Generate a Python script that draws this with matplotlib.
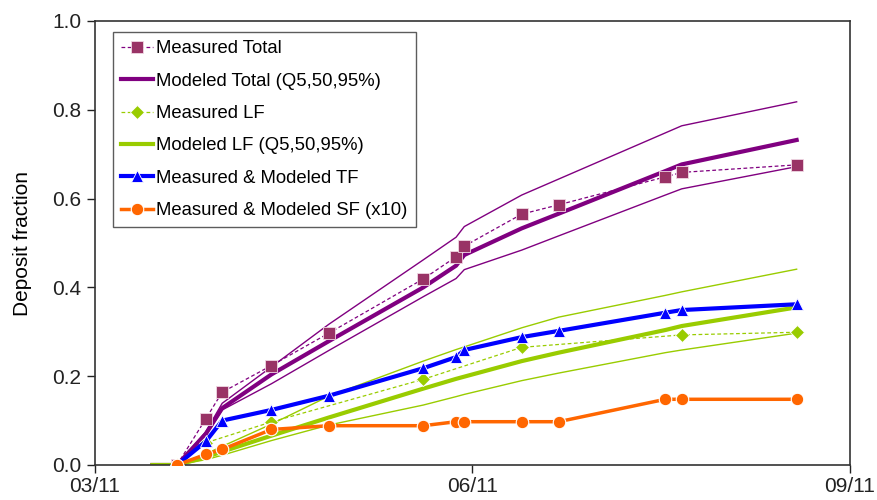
import numpy as np
import pandas as pd
import matplotlib
matplotlib.use("Agg")
import matplotlib.pyplot as plt
import matplotlib.dates as mdates

plt.rcParams['font.family'] = ['Liberation Sans', 'DejaVu Sans']

# measurement dates
meas_dates = pd.to_datetime([
    "2011-03-21", "2011-03-28", "2011-04-01", "2011-04-13", "2011-04-27",
    "2011-05-20", "2011-05-28", "2011-05-30", "2011-06-13", "2011-06-22",
    "2011-07-18", "2011-07-22", "2011-08-19"])
total_meas = [0.0, 0.104, 0.164, 0.224, 0.297, 0.419, 0.469, 0.493,
              0.565, 0.586, 0.649, 0.659, 0.676]
tf_vals = [0.0, 0.053, 0.100, 0.124, 0.156, 0.218, 0.243, 0.259,
           0.288, 0.302, 0.343, 0.349, 0.362]
sf_x10 = [0.0, 0.024, 0.035, 0.080, 0.0885, 0.0885, 0.0975, 0.0975,
          0.0975, 0.0975, 0.148, 0.148, 0.148]

# measured LF only at some dates
lf_dates = pd.to_datetime([
    "2011-03-21", "2011-03-28", "2011-04-13", "2011-05-20",
    "2011-06-13", "2011-07-22", "2011-08-19"])
lf_meas = [0.0, 0.050, 0.097, 0.193, 0.265, 0.293, 0.299]

# modeled curves (Q5, median, Q95)
model_dates = pd.to_datetime(["2011-03-15"]).append(meas_dates)
total_q50 = [0.0, 0.0, 0.070, 0.128, 0.204, 0.279, 0.400, 0.449, 0.473,
             0.533, 0.566, 0.662, 0.677, 0.732]
total_q95 = [0.0, 0.0, 0.075, 0.139, 0.221, 0.317, 0.462, 0.513, 0.537,
             0.608, 0.644, 0.748, 0.764, 0.818]
total_q5 = [0.0, 0.0, 0.066, 0.124, 0.183, 0.258, 0.379, 0.420, 0.440,
            0.484, 0.516, 0.608, 0.622, 0.672]
lf_q50 = [0.0, 0.0, 0.018, 0.030, 0.066, 0.107, 0.172, 0.194, 0.199,
          0.234, 0.253, 0.304, 0.313, 0.355]
lf_q95 = [0.0, 0.0, 0.025, 0.042, 0.092, 0.155, 0.234, 0.260, 0.266,
          0.309, 0.333, 0.382, 0.390, 0.441]
lf_q5 = [0.0, 0.0, 0.012, 0.022, 0.055, 0.090, 0.135, 0.154, 0.159,
         0.190, 0.207, 0.253, 0.259, 0.297]

purple = '#800080'
maroon = '#993366'
green = '#99CC00'
blue = '#0000FF'
orange = '#FF6600'

fig = plt.figure(figsize=(8.77, 5.0), dpi=100)
ax = fig.add_axes([0.1083, 0.07, 0.8609, 0.888])

# modeled total
ax.plot(model_dates, total_q95, color=purple, lw=1.0, zorder=2)
ax.plot(model_dates, total_q5, color=purple, lw=1.0, zorder=2)
ax.plot(model_dates, total_q50, color=purple, lw=3.0, zorder=2,
        label='Modeled Total (Q5,50,95%)')
# modeled LF
ax.plot(model_dates, lf_q95, color=green, lw=1.0, zorder=2)
ax.plot(model_dates, lf_q5, color=green, lw=1.0, zorder=2)
ax.plot(model_dates, lf_q50, color=green, lw=3.0, zorder=2,
        label='Modeled LF (Q5,50,95%)')

ax.plot(meas_dates, total_meas, color=purple, lw=0.9, ls=(0, (3, 2)),
        marker='s', ms=8.5, mfc=maroon, mec='#f0d8e4', mew=0.6, zorder=4,
        label='Measured Total')
ax.plot(lf_dates, lf_meas, color=green, lw=0.9, ls=(0, (3, 2)),
        marker='D', ms=7, mfc=green, mec='white', mew=0.6, zorder=4,
        label='Measured LF')
ax.plot(meas_dates, tf_vals, color=blue, lw=3.0, marker='^', ms=8.5,
        mfc=blue, mec='white', mew=0.6, zorder=5,
        label='Measured & Modeled TF')
ax.plot(meas_dates, sf_x10, color=orange, lw=2.5, marker='o', ms=9,
        mfc=orange, mec='white', mew=0.8, zorder=6,
        label='Measured & Modeled SF (x10)')

ax.set_xlim(pd.Timestamp("2011-03-01"), pd.Timestamp("2011-09-01"))
ax.set_ylim(0, 1.0)
ax.set_xticks(pd.to_datetime(["2011-03-01", "2011-06-01", "2011-09-01"]))
ax.xaxis.set_major_formatter(mdates.DateFormatter('%m/%y'))
ax.set_yticks(np.arange(0, 1.01, 0.2))
ax.yaxis.set_major_formatter(plt.FormatStrFormatter('%.1f'))
ax.tick_params(direction='out', length=6, width=1, labelsize=15,
               colors='#222222', pad=4)
ax.tick_params(axis='x', pad=3)
for s in ax.spines.values():
    s.set_color('#333333')
    s.set_linewidth(1.2)
ax.set_ylabel('Deposit fraction', fontsize=15, labelpad=14)

handles, labels = ax.get_legend_handles_labels()
order = ['Measured Total', 'Modeled Total (Q5,50,95%)', 'Measured LF',
         'Modeled LF (Q5,50,95%)', 'Measured & Modeled TF',
         'Measured & Modeled SF (x10)']
hmap = dict(zip(labels, handles))
leg = ax.legend([hmap[l] for l in order], order, loc='upper left',
                bbox_to_anchor=(0.0238, 0.975), borderaxespad=0,
                fontsize=13.3, frameon=True, fancybox=False,
                handlelength=1.7, handletextpad=0.2, borderpad=0.45,
                labelspacing=0.83)
leg.get_frame().set_edgecolor('#333333')
leg.get_frame().set_linewidth(1.0)

fig.savefig('out.png', dpi=100)
